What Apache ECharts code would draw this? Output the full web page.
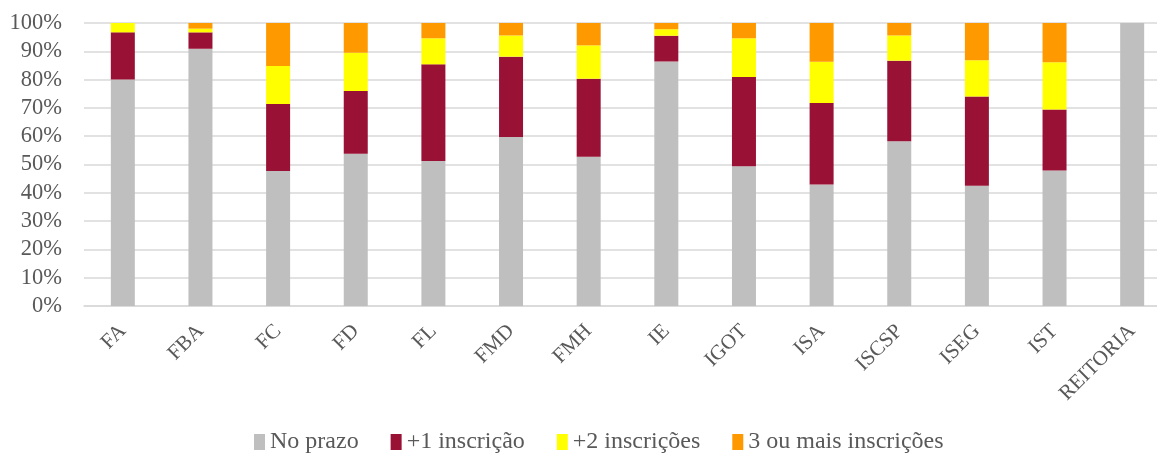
<!DOCTYPE html>
<html><head><meta charset="utf-8">
<script src="https://cdn.jsdelivr.net/npm/echarts@6/dist/echarts.min.js"></script>
<style>html,body{margin:0;padding:0;background:#fff;overflow:hidden}#c{width:1171px;height:454px}</style>
</head><body><div id="c"></div>
<script>
const categories = ['FA','FBA','FC','FD','FL','FMD','FMH','IE','IGOT','ISA','ISCSP','ISEG','IST','REITORIA'];
const noPrazo   = [80.0, 90.9, 47.7, 53.8, 51.2, 59.7, 52.7, 86.4, 49.4, 42.9, 58.2, 42.5, 47.9, 100];
const mais1     = [16.7, 5.8, 23.7, 22.2, 34.2, 28.4, 27.6, 9.1, 31.5, 28.8, 28.5, 31.5, 21.5, 0];
const mais2     = [3.3, 1.3, 13.4, 13.5, 9.2, 7.5, 11.8, 2.3, 13.7, 14.6, 8.9, 12.8, 16.7, 0];
const mais3     = [0.0, 2.0, 15.2, 10.5, 5.4, 4.4, 7.9, 2.2, 5.4, 13.7, 4.4, 13.2, 13.9, 0];
const seriesNames = ['No prazo','+1 inscrição','+2 inscrições','3 ou mais inscrições'];
const colors = ['#BFBFBF','#991235','#FFFF00','#FF9900'];
const font = 'Liberation Serif, Times New Roman, serif';
const chart = echarts.init(document.getElementById('c'));
const data = [noPrazo, mais1, mais2, mais3];
chart.setOption({
  animation:false,
  color: colors,
  textStyle:{fontFamily:font},
  grid:{left:84, right:0, top:23, bottom:148, containLabel:false},
  legend:{top:430, left:254, padding:0, itemWidth:11, itemHeight:16, itemGap:32,
    icon:'rect',
    textStyle:{fontFamily:font, fontSize:24, color:'#595959', padding:[0,0,0,0]},
    data: seriesNames},
  xAxis:{type:'category', data:categories,
    axisLine:{lineStyle:{color:'#D9D9D9', width:1.5}},
    axisTick:{show:false},
    axisLabel:{rotate:45, fontFamily:font, fontSize:21, color:'#595959', margin:22, interval:0}},
  yAxis:{type:'value', min:0, max:100, interval:10,
    axisLine:{show:false}, axisTick:{show:false},
    splitLine:{lineStyle:{color:'#D9D9D9', width:1.5}},
    axisLabel:{formatter:'{value}%', fontFamily:font, fontSize:22.5, color:'#595959', margin:22}},
  series: seriesNames.map((n,i)=>({name:n, type:'bar', stack:'t', barWidth:24, data:data[i]}))
});
</script></body></html>
